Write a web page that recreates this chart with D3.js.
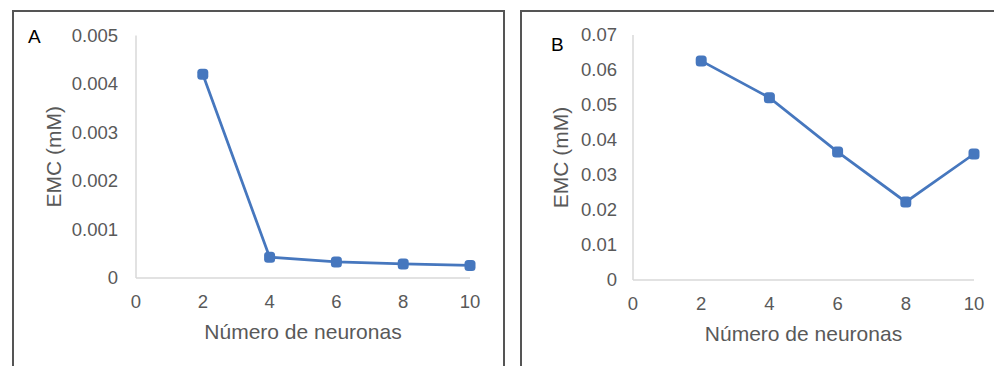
<!DOCTYPE html>
<html><head><meta charset="utf-8">
<script src="https://cdn.jsdelivr.net/npm/d3@7"></script>
<style>body{margin:0;background:#fff}svg{display:block}text{font-family:"Liberation Sans",Arial,sans-serif}</style>
</head><body>
<svg id="c" width="994" height="366"></svg>
<script>
const neurons = [2, 4, 6, 8, 10];
const emcA = [0.0042, 0.00043, 0.00033, 0.00029, 0.00026];
const emcB = [0.0626, 0.0521, 0.0366, 0.0223, 0.0360];
const xTicks = [0, 2, 4, 6, 8, 10];
const yTicksA = [0, 0.001, 0.002, 0.003, 0.004, 0.005];
const yTicksB = [0, 0.01, 0.02, 0.03, 0.04, 0.05, 0.06, 0.07];
const panelLabels = ["A", "B"];
const xTitle = "Número de neuronas";
const yTitle = "EMC (mM)";

const svg = d3.select("#c");
const blue = "#4677be", gray = "#595959";

function panel(cfg) {
  const g = svg.append("g");
  g.append("path").attr("d", `M${cfg.bx},370 V${cfg.by} H${cfg.bx2} V370`)
    .attr("fill", "none").attr("stroke", "#555").attr("stroke-width", 2);
  const x = d3.scaleLinear().domain([0, 10]).range([cfg.x0, cfg.x1]);
  const y = d3.scaleLinear().domain([0, cfg.ymax]).range([cfg.y0, cfg.y1]);
  g.append("line").attr("x1", cfg.x0).attr("x2", cfg.x0).attr("y1", y(cfg.ymax)).attr("y2", cfg.y0)
    .attr("stroke", "#d9d9d9").attr("stroke-width", 1.5);
  g.append("line").attr("x1", cfg.x0).attr("x2", cfg.x1).attr("y1", cfg.y0).attr("y2", cfg.y0)
    .attr("stroke", "#d9d9d9").attr("stroke-width", 1.5);
  g.selectAll(".yt").data(cfg.yTicks).enter().append("text")
    .attr("x", cfg.ylabX).attr("y", d => y(d)).attr("dy", "0.35em")
    .attr("text-anchor", "end").attr("fill", gray).attr("font-size", 18.5)
    .text(d => d === 0 ? "0" : d3.format("." + cfg.dec + "f")(d));
  g.selectAll(".xt").data(xTicks).enter().append("text")
    .attr("x", d => x(d)).attr("y", cfg.y0 + 30).attr("text-anchor", "middle")
    .attr("fill", gray).attr("font-size", 18.5).text(d => d);
  g.append("text").attr("x", (cfg.x0 + cfg.x1) / 2).attr("y", cfg.y0 + 61)
    .attr("text-anchor", "middle").attr("fill", gray).attr("font-size", 21).text(xTitle);
  g.append("text").attr("transform", `translate(${cfg.ytX},${(cfg.y0 + y(cfg.ymax)) / 2}) rotate(-90)`)
    .attr("text-anchor", "middle").attr("fill", gray).attr("font-size", 21).text(yTitle);
  g.append("text").attr("x", cfg.lx).attr("y", cfg.ly).attr("fill", "#000")
    .attr("font-size", 19).text(cfg.label);
  const pts = neurons.map((n, i) => [n, cfg.data[i]]);
  g.append("path").datum(pts)
    .attr("d", d3.line().x(d => x(d[0])).y(d => y(d[1])))
    .attr("fill", "none").attr("stroke", blue).attr("stroke-width", 2.75);
  g.selectAll(".m").data(pts).enter().append("rect")
    .attr("x", d => x(d[0]) - 5.5).attr("y", d => y(d[1]) - 5.5)
    .attr("width", 11).attr("height", 11).attr("rx", 3.5).attr("fill", blue);
}

panel({bx: 13, by: 11, bx2: 504, x0: 136, x1: 470, y0: 278, y1: 35.5, ymax: 0.005,
  yTicks: yTicksA, dec: 3, ylabX: 118, ytX: 61, data: emcA, label: panelLabels[0], lx: 28, ly: 43});
panel({bx: 521, by: 11, bx2: 1000, x0: 633, x1: 974, y0: 280, y1: 35, ymax: 0.07,
  yTicks: yTicksB, dec: 2, ylabX: 617, ytX: 568, data: emcB, label: panelLabels[1], lx: 551, ly: 51});
</script>
</body></html>
